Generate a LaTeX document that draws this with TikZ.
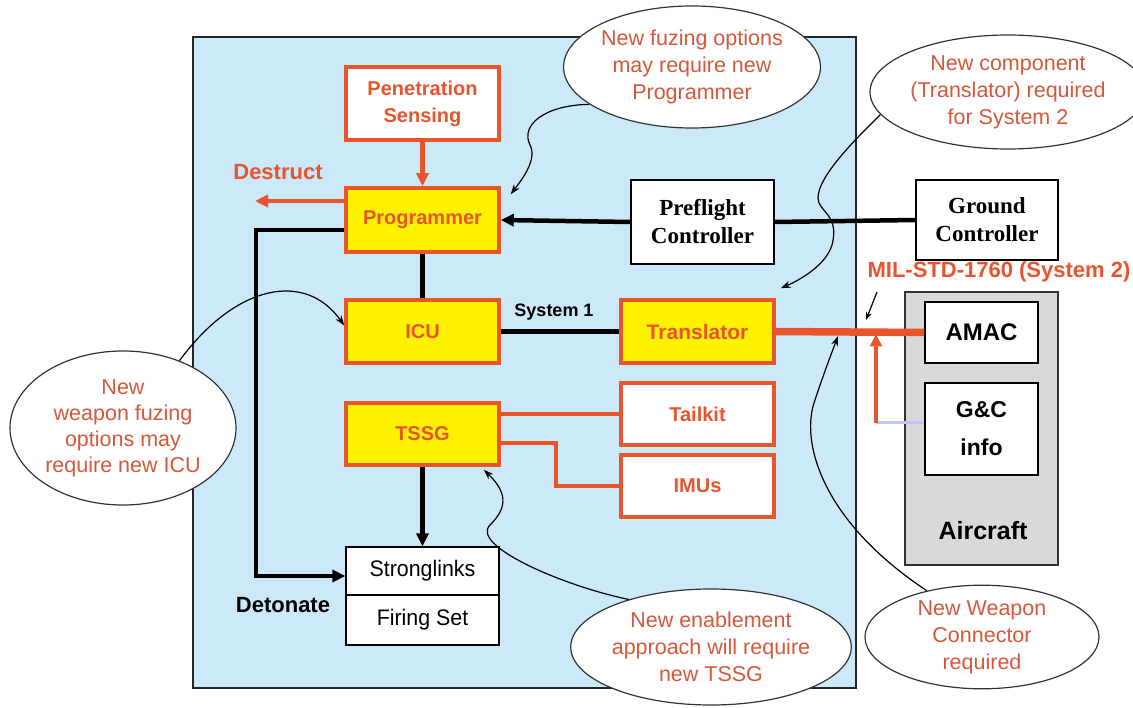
\documentclass[tikz,border=0pt]{standalone}
\usepackage{fontspec}
\setmainfont{Liberation Sans}
\newfontfamily\lbl{Liberation Sans}
\newfontfamily\srf{Liberation Serif}
\newfontfamily\narr[FakeStretch=0.95]{Liberation Sans}
\usetikzlibrary{arrows.meta,shapes.geometric,calc}
\definecolor{bluebg}{RGB}{204,233,250}
\definecolor{boxred}{RGB}{232,84,44}
\definecolor{callred}{RGB}{214,88,58}
\definecolor{acgray}{RGB}{217,217,217}
\definecolor{lav}{RGB}{196,196,240}
\begin{document}
\begin{tikzpicture}[x=1pt,y=-1pt,
  redbox/.style={draw=boxred, line width=3.5pt, fill=white, minimum width=153pt, inner sep=0pt, align=center, text=boxred, font=\lbl\bfseries\fontsize{20}{27}\selectfont},
  yelbox/.style={redbox, fill=yellow},
  ctrlbox/.style={draw=black, line width=1.5pt, fill=white, inner sep=0pt, align=center, font=\srf\bfseries\fontsize{23}{28}\selectfont},
  acbox/.style={draw=black, line width=1.5pt, fill=white, minimum width=113pt, inner sep=0pt, align=center, font=\lbl\bfseries\fontsize{22}{36}\selectfont},
  fsbox/.style={draw=black, line width=1.2pt, fill=white, minimum width=153pt, inner sep=0pt, font=\narr\fontsize{22.5}{26}\selectfont},
  callout/.style={ellipse, draw=black!80, line width=1.2pt, fill=white, inner sep=0pt, align=center, text=callred, font=\fontsize{21.5}{27}\selectfont},
  blk/.style={draw=black, line width=4.5pt},
  redl/.style={draw=boxred, line width=4.5pt},
  bigtip/.style={-{Triangle[length=13pt,width=12pt]}},
  ptr/.style={draw=black, line width=1.2pt, -{Stealth[length=10pt,width=7pt]}},
  lab/.style={font=\lbl\bfseries\fontsize{22}{24}\selectfont, inner sep=0pt}
]
\useasboundingbox (0,0) rectangle (1133,708);
% background panels
\draw[fill=bluebg, draw=black!85, line width=1.8pt] (193,37) rectangle (856,688);
\draw[fill=acgray, draw=black!80, line width=2.2pt] (905,292) rectangle (1058,565);
\node[lab, font=\lbl\bfseries\fontsize{25}{26}\selectfont] (aircraft) at (983,531) {Aircraft};

% nodes
\node[redbox, minimum height=73pt] (pen) at (422.5,103.5) {Penetration\\Sensing};
\node[yelbox, minimum height=64pt] (prog) at (422.5,220) {Programmer};
\node[yelbox, minimum height=63pt] (icu) at (422.5,331.5) {ICU};
\node[yelbox, minimum height=62pt] (tssg) at (422.5,434) {TSSG};
\node[fsbox, minimum height=48pt] (strong) at (422.5,571) {Stronglinks};
\node[fsbox, minimum height=50pt] (firing) at (422.5,620) {Firing Set};
\node[yelbox, minimum height=63pt, font=\lbl\bfseries\fontsize{21}{27}\selectfont] (trans) at (697.5,331.5) {Translator};
\node[redbox, minimum height=62pt] (tail) at (697.5,414) {Tailkit};
\node[redbox, minimum height=62pt] (imus) at (697.5,486) {IMUs};
\node[ctrlbox, minimum width=143pt, minimum height=84pt] (pre) at (702.5,222) {Preflight\\Controller};
\node[ctrlbox, minimum width=142pt, minimum height=80pt] (ground) at (987,220) {Ground\\Controller};
\node[acbox, minimum height=61pt, font=\lbl\bfseries\fontsize{24}{26}\selectfont] (amac) at (981.5,332.5) {AMAC};
\node[acbox, minimum height=92pt, font=\lbl\bfseries\fontsize{23}{38}\selectfont] (gc) at (981.5,429) {G\&C\\info};

% labels
\node[lab, text=boxred] (destruct) at (278,172) {Destruct};
\node[lab, font=\lbl\bfseries\fontsize{18}{20}\selectfont] (sys1) at (554,312) {System 1};
\node[lab] (deton) at (283,605) {Detonate};
\node[lab, text=boxred] (mil) at (999,272) {MIL-STD-1760 (System 2)};

% coordinates
\coordinate (destr) at (255,201);
\coordinate (det) at (256,576);
\coordinate (bend) at (556,486);
\coordinate (gcj) at (876,423);

% connectors
\draw[redl, bigtip] (pen.south) -- (prog.north);
\draw[redl, bigtip] ([yshift=19pt]prog.west) -- (destr);
\draw[blk] (prog.south) -- (icu.north);
\draw[blk, bigtip] ([yshift=-10pt]prog.west) -| (det) -- (strong.west |- det);
\draw[blk, bigtip] (tssg.south) -- (strong.north);
\draw[blk] (icu.east) -- (trans.west);
\draw[blk] (ground.west) -- (pre.east);
\draw[blk, bigtip] (pre.west) -- (prog.east);
\draw[redl] (tssg.east |- tail.west) -- (tail.west);
\draw[redl] ([yshift=-9pt]tssg.east) -| (bend) -- (imus.west);
\draw[draw=boxred, line width=7.5pt] (trans.east) -- (amac.west);
\draw[draw=lav, line width=3pt] ([yshift=6pt]gc.west) -- (gcj);
\draw[redl, -{Triangle[length=12pt,width=12pt]}, shorten >=3pt] (gcj) -- (gcj |- trans.east);
\coordinate (milA) at (877,292);
\coordinate (milB) at (866,320);
\draw[draw=black, line width=1.2pt, -{Stealth[length=8pt,width=6pt]}] (milA) -- (milB);

% callouts
\node[callout, minimum width=250pt, minimum height=122pt] (c1) at (692,67) {New fuzing options\\may require new\\Programmer};
\node[callout, minimum width=245pt, minimum height=114pt] (c2) at (1008,92) {New component\\(Translator) required\\for System 2};
\node[callout, minimum width=226pt, minimum height=154pt, font=\fontsize{21.5}{26}\selectfont] (c3) at (123,428) {New\\weapon fuzing\\options may\\require new ICU};
\node[callout, minimum width=245pt, minimum height=116pt] (c4) at (711,647) {New enablement\\approach will require\\new TSSG};
\node[callout, minimum width=234pt, minimum height=100pt] (c5) at (982,637) {New Weapon\\Connector\\required};

% pointers
\draw[ptr] (c1.200) .. controls (545,105) and (520,125) .. (530,145) .. controls (538,160) and (520,182) .. ([shift={(10pt,-8pt)}]prog.north east);
\draw[ptr] (c2.190) .. controls (860,135) and (818,175) .. (818,198) .. controls (818,212) and (840,214) .. (832,245) .. controls (826,265) and (800,280) .. ([shift={(5pt,10pt)}]trans.north east);
\draw[ptr] (c3.50) .. controls (235,285) and (305,270) .. ([yshift=6pt]icu.west);
\draw[ptr] (c4.150) .. controls (560,585) and (470,545) .. (490,525) .. controls (505,510) and (510,495) .. ([shift={(-17pt,-3pt)}]tssg.south east);
\draw[ptr] (c5.140) .. controls (820,520) and (800,440) .. (815,400) .. controls (825,370) and (832,352) .. (838,336);
\end{tikzpicture}
\end{document}
